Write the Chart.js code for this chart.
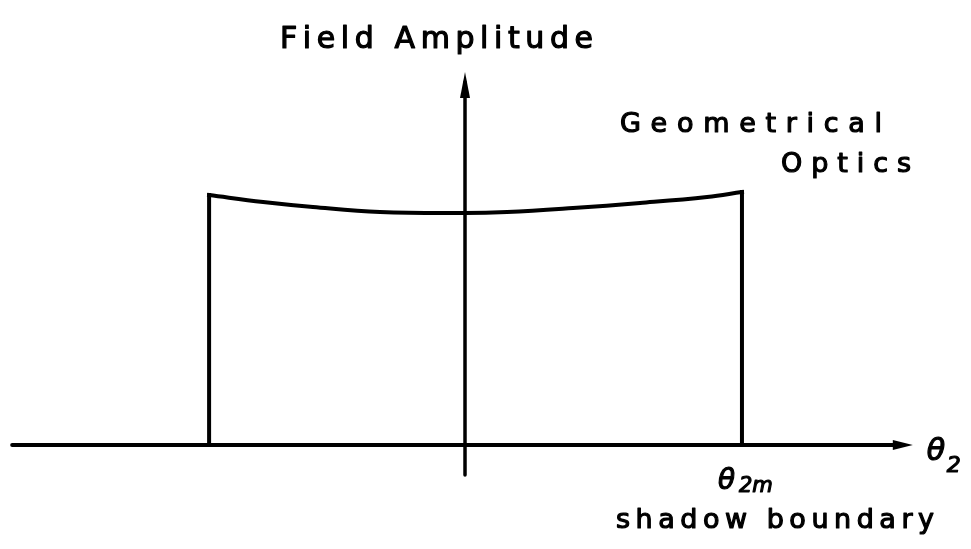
<!DOCTYPE html>
<html>
<head>
<meta charset="utf-8">
<script src="https://cdn.jsdelivr.net/npm/chart.js@4.4.1/dist/chart.umd.min.js"></script>
<style>
  html, body { margin: 0; padding: 0; background: #fff; }
  #wrap { width: 971px; height: 549px; position: relative; }
</style>
</head>
<body>
<div id="wrap"><canvas id="chart"></canvas></div>
<script>
// angle theta_2, in units of the shadow boundary angle theta_2m
const edgeLeft = -0.924;
const edgeRight = 1.0;
const thetaValues = [-0.924, -0.729, -0.549, -0.307, 0, 0.152, 0.390, 0.632, 0.874, 1.0];
// geometrical optics field amplitude between the two shadow boundaries
const amplitudeValues = [1.0, 0.972, 0.952, 0.932, 0.928, 0.932, 0.948, 0.968, 0.992, 1.012];

// where the axes run (arrow tips at the far ends)
const xAxisExtent = [-1.635, 1.617];
const yAxisExtent = [-0.12, 1.492];

const yAxisTitle = 'Field Amplitude';
const curveLabel = ['Geometrical', 'Optics'];
const xAxisSymbol = ['θ', '2'];
const boundarySymbol = ['θ', '2m'];
const boundaryText = 'shadow boundary';

const curve = thetaValues.map((t, i) => ({ x: t, y: amplitudeValues[i] }));
const leftEdge = [{ x: edgeLeft, y: 0 }, { x: edgeLeft, y: amplitudeValues[0] }];
const rightEdge = [{ x: edgeRight, y: amplitudeValues[amplitudeValues.length - 1] }, { x: edgeRight, y: 0 }];

const hand = '"DejaVu Sans"';

// draw a string so that it spans a given width, spreading the letters out
function spreadText(ctx, text, x, y, width) {
    const chars = Array.from(text);
    const widths = chars.map(c => ctx.measureText(c).width);
    const total = widths.reduce((a, b) => a + b, 0);
    const gap = chars.length > 1 ? (width - total) / (chars.length - 1) : 0;
    let cx = x;
    chars.forEach((c, i) => {
        ctx.strokeText(c, cx, y);
        ctx.fillText(c, cx, y);
        cx += widths[i] + gap;
    });
}

function label(ctx, text, x, y) {
    ctx.strokeText(text, x, y);
    ctx.fillText(text, x, y);
}

function arrowHead(ctx, tipX, tipY, dir, len, half) {
    ctx.beginPath();
    if (dir === 'right') {
        ctx.moveTo(tipX, tipY);
        ctx.lineTo(tipX - len, tipY - half);
        ctx.lineTo(tipX - len, tipY + half);
    } else {
        ctx.moveTo(tipX, tipY);
        ctx.lineTo(tipX - half, tipY + len);
        ctx.lineTo(tipX + half, tipY + len);
    }
    ctx.closePath();
    ctx.fill();
}

const sketchAxes = {
    id: 'sketchAxes',
    beforeDatasetsDraw(chart) {
        const ctx = chart.ctx;
        const xs = chart.scales.x;
        const ys = chart.scales.y;
        const x0 = xs.getPixelForValue(0);
        const y0 = ys.getPixelForValue(0);
        ctx.save();
        ctx.strokeStyle = '#000';
        ctx.fillStyle = '#000';
        ctx.lineWidth = 4;
        ctx.lineCap = 'round';

        // horizontal axis
        const xEnd = xs.getPixelForValue(xAxisExtent[1]);
        ctx.beginPath();
        ctx.moveTo(xs.getPixelForValue(xAxisExtent[0]), y0);
        ctx.lineTo(xEnd - 10, y0);
        ctx.stroke();
        arrowHead(ctx, xEnd, y0, 'right', 20, 5);

        // vertical axis
        const yTop = ys.getPixelForValue(yAxisExtent[1]);
        ctx.lineWidth = 3.5;
        ctx.beginPath();
        ctx.moveTo(x0, ys.getPixelForValue(yAxisExtent[0]));
        ctx.lineTo(x0, yTop + 10);
        ctx.stroke();
        arrowHead(ctx, x0, yTop, 'up', 26, 5);
        ctx.restore();
    },
    afterDatasetsDraw(chart) {
        const ctx = chart.ctx;
        const xs = chart.scales.x;
        const ys = chart.scales.y;
        const x0 = xs.getPixelForValue(0);
        const y0 = ys.getPixelForValue(0);
        const xEnd = xs.getPixelForValue(xAxisExtent[1]);
        const xb = xs.getPixelForValue(edgeRight);
        ctx.save();
        ctx.fillStyle = '#000';
        ctx.strokeStyle = '#000';
        ctx.lineWidth = 1.2;
        ctx.lineJoin = 'round';
        ctx.textBaseline = 'alphabetic';
        ctx.textAlign = 'left';

        ctx.font = '30px ' + hand;
        spreadText(ctx, yAxisTitle, x0 - 185, 48, 313);

        ctx.font = '27px ' + hand;
        spreadText(ctx, curveLabel[0], 620, 132, 262);
        spreadText(ctx, curveLabel[1], 781, 172, 130);

        // theta_2 at the end of the horizontal axis
        ctx.font = 'italic 30px ' + hand;
        label(ctx, xAxisSymbol[0], xEnd + 14, y0 + 15);
        ctx.font = 'italic 22px ' + hand;
        label(ctx, xAxisSymbol[1], xEnd + 34, y0 + 27);

        // theta_2m under the right shadow boundary
        ctx.font = 'italic 28px ' + hand;
        label(ctx, boundarySymbol[0], xb - 24, y0 + 44);
        ctx.font = 'italic 21px ' + hand;
        label(ctx, boundarySymbol[1], xb - 3, y0 + 47);

        ctx.font = '27px ' + hand;
        spreadText(ctx, boundaryText, 616, 528, 318);
        ctx.restore();
    }
};

const lineStyle = {
    borderColor: '#000',
    borderWidth: 4,
    pointRadius: 0,
    fill: false,
    borderJoinStyle: 'miter',
    borderCapStyle: 'square'
};

new Chart(document.getElementById('chart'), {
    type: 'line',
    data: {
        datasets: [
            Object.assign({ data: leftEdge, tension: 0 }, lineStyle),
            Object.assign({ data: curve, tension: 0.4 }, lineStyle),
            Object.assign({ data: rightEdge, tension: 0 }, lineStyle)
        ]
    },
    options: {
        responsive: true,
        maintainAspectRatio: false,
        animation: false,
        devicePixelRatio: 1,
        layout: { padding: 0 },
        plugins: { legend: { display: false }, tooltip: { enabled: false }, title: { display: false } },
        scales: {
            x: { type: 'linear', min: -1.679, max: 1.827, display: false },
            y: { type: 'linear', min: -0.416, max: 1.78, display: false }
        }
    },
    plugins: [sketchAxes]
});
</script>
</body>
</html>
